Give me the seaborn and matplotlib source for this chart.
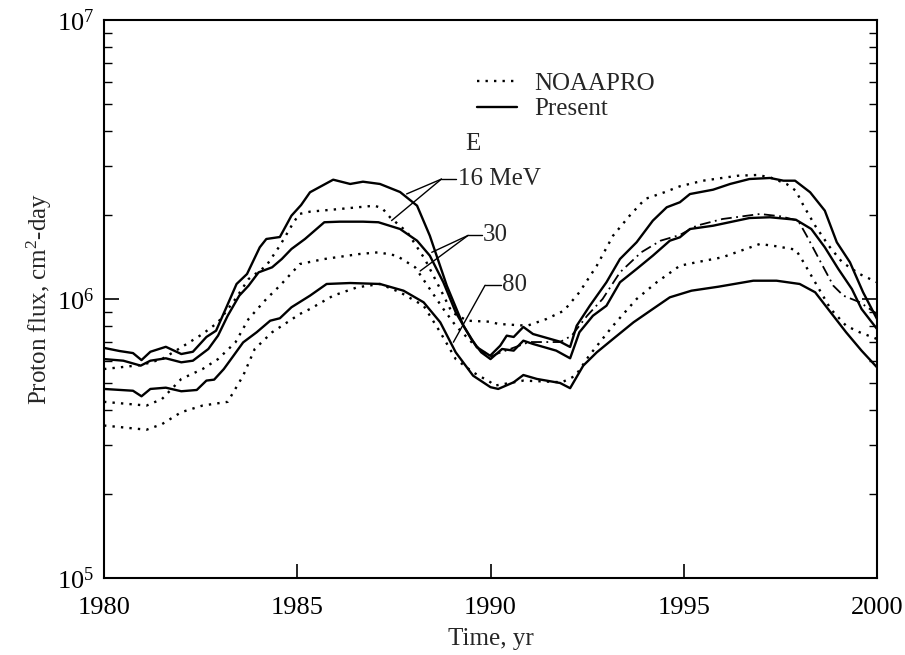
import numpy as np
import pandas as pd
import matplotlib
matplotlib.use("Agg")
import matplotlib.pyplot as plt
from matplotlib.ticker import LogLocator, NullFormatter, LogFormatterSciNotation
import seaborn as sns

# ---------------- data ----------------
present16_year = [1980.0, 1980.4, 1980.75, 1980.97, 1981.2, 1981.6, 1982.0, 1982.3, 1982.65, 1982.9,
                  1983.17, 1983.43, 1983.7, 1984.03, 1984.2, 1984.55, 1984.85, 1985.1, 1985.33, 1985.93,
                  1986.37, 1986.7, 1987.14, 1987.66, 1988.1, 1988.43, 1988.87, 1989.3, 1989.64, 1989.99,
                  1990.25, 1990.42, 1990.6, 1990.85, 1991.1, 1991.8, 1992.06, 1992.23, 1992.57, 1993.0,
                  1993.35, 1993.78, 1994.2, 1994.56, 1994.9, 1995.16, 1995.76, 1996.2, 1996.7, 1997.23,
                  1997.58, 1997.88, 1998.27, 1998.65, 1998.96, 1999.3, 1999.64, 2000.0]
present16_flux = [6.68e5, 6.51e5, 6.40e5, 6.04e5, 6.47e5, 6.74e5, 6.35e5, 6.47e5, 7.31e5, 7.70e5,
                  9.36e5, 1.132e6, 1.229e6, 1.532e6, 1.641e6, 1.668e6, 1.989e6, 2.172e6, 2.413e6, 2.677e6,
                  2.584e6, 2.633e6, 2.584e6, 2.418e6, 2.160e6, 1.686e6, 1.116e6, 8.02e5, 6.73e5, 6.26e5,
                  6.80e5, 7.39e5, 7.31e5, 7.94e5, 7.49e5, 7.03e5, 6.73e5, 8.02e5, 9.46e5, 1.148e6,
                  1.391e6, 1.597e6, 1.909e6, 2.132e6, 2.222e6, 2.378e6, 2.465e6, 2.584e6, 2.692e6, 2.715e6,
                  2.655e6, 2.655e6, 2.413e6, 2.073e6, 1.597e6, 1.354e6, 1.057e6, 8.48e5]

present30_year = [1980.0, 1980.5, 1980.95, 1981.2, 1981.6, 1982.0, 1982.3, 1982.7, 1982.95, 1983.2,
                  1983.5, 1983.74, 1984.0, 1984.35, 1984.6, 1984.85, 1985.2, 1985.7, 1986.1, 1986.7,
                  1987.1, 1987.66, 1988.1, 1988.43, 1988.78, 1989.1, 1989.5, 1989.76, 1990.0, 1990.3,
                  1990.6, 1990.85, 1991.1, 1991.7, 1992.06, 1992.3, 1992.65, 1993.0, 1993.35, 1993.78,
                  1994.2, 1994.64, 1994.9, 1995.16, 1995.76, 1996.7, 1997.23, 1997.9, 1998.3, 1998.65,
                  1999.0, 1999.35, 1999.6, 2000.0]
present30_flux = [6.09e5, 6.01e5, 5.77e5, 6.01e5, 6.13e5, 5.93e5, 6.01e5, 6.62e5, 7.39e5, 8.71e5,
                  1.028e6, 1.116e6, 1.246e6, 1.299e6, 1.391e6, 1.511e6, 1.641e6, 1.884e6, 1.893e6, 1.893e6,
                  1.884e6, 1.782e6, 1.618e6, 1.430e6, 1.148e6, 8.96e5, 7.19e5, 6.44e5, 6.09e5, 6.62e5,
                  6.53e5, 7.09e5, 6.90e5, 6.53e5, 6.13e5, 7.60e5, 8.71e5, 9.46e5, 1.148e6, 1.281e6,
                  1.430e6, 1.618e6, 1.664e6, 1.782e6, 1.831e6, 1.951e6, 1.963e6, 1.924e6, 1.782e6, 1.532e6,
                  1.281e6, 1.086e6, 9.21e5, 7.81e5]

present80_year = [1980.0, 1980.75, 1980.97, 1981.2, 1981.6, 1982.0, 1982.4, 1982.65, 1982.85, 1983.1,
                  1983.35, 1983.6, 1983.95, 1984.3, 1984.55, 1984.85, 1985.33, 1985.76, 1986.37, 1987.14,
                  1987.75, 1988.27, 1988.7, 1989.1, 1989.55, 1990.0, 1990.2, 1990.6, 1990.85, 1991.2,
                  1991.8, 1992.06, 1992.4, 1992.75, 1993.17, 1993.7, 1994.2, 1994.64, 1995.2, 1995.9,
                  1996.8, 1997.4, 1998.0, 1998.4, 1998.8, 1999.2, 1999.6, 2000.0]
present80_flux = [4.76e5, 4.69e5, 4.48e5, 4.76e5, 4.81e5, 4.67e5, 4.72e5, 5.10e5, 5.14e5, 5.61e5,
                  6.26e5, 6.99e5, 7.60e5, 8.36e5, 8.53e5, 9.34e5, 1.028e6, 1.132e6, 1.141e6, 1.132e6,
                  1.071e6, 9.73e5, 8.25e5, 6.44e5, 5.31e5, 4.83e5, 4.76e5, 5.03e5, 5.34e5, 5.17e5,
                  5.00e5, 4.79e5, 5.77e5, 6.44e5, 7.19e5, 8.25e5, 9.21e5, 1.014e6, 1.071e6, 1.107e6,
                  1.163e6, 1.163e6, 1.132e6, 1.057e6, 8.96e5, 7.60e5, 6.53e5, 5.69e5]

noaa16_year = [1980.0, 1980.97, 1981.5, 1982.0, 1982.55, 1982.95, 1983.4, 1983.74, 1984.2, 1984.55,
               1984.88, 1985.05, 1985.33, 1986.1, 1987.0, 1987.2, 1987.4, 1987.85, 1988.3, 1988.7,
               1989.0, 1989.4, 1989.99, 1990.2, 1990.95, 1991.45, 1991.9, 1992.3, 1992.75, 1993.17,
               1993.6, 1994.0, 1994.5, 1994.9, 1995.5, 1996.4, 1996.9, 1997.23, 1997.66, 1997.9,
               1998.1, 1998.4, 1998.75, 1999.1, 1999.55, 2000.0]
noaa16_flux = [5.61e5, 5.80e5, 6.09e5, 6.71e5, 7.49e5, 8.25e5, 1.000e6, 1.179e6, 1.316e6, 1.553e6,
               1.857e6, 2.017e6, 2.056e6, 2.102e6, 2.160e6, 2.114e6, 1.963e6, 1.734e6, 1.391e6, 1.086e6,
               8.96e5, 8.36e5, 8.29e5, 8.14e5, 8.02e5, 8.48e5, 9.08e5, 1.057e6, 1.316e6, 1.686e6,
               1.989e6, 2.283e6, 2.413e6, 2.535e6, 2.655e6, 2.766e6, 2.783e6, 2.731e6, 2.584e6, 2.444e6,
               2.160e6, 1.831e6, 1.553e6, 1.354e6, 1.229e6, 1.148e6]

noaa30_year = [1980.0, 1981.1, 1981.5, 1982.0, 1982.55, 1982.95, 1983.4, 1983.74, 1984.2, 1984.55,
               1985.07, 1985.7, 1986.6, 1987.1, 1987.57, 1988.05, 1988.43, 1988.78, 1989.1, 1989.6,
               1990.0]
noaa30_flux = [4.28e5, 4.15e5, 4.38e5, 5.17e5, 5.61e5, 6.09e5, 6.99e5, 8.48e5, 1.000e6, 1.116e6,
               1.335e6, 1.391e6, 1.449e6, 1.470e6, 1.430e6, 1.299e6, 1.086e6, 9.21e5, 8.02e5, 6.80e5,
               6.20e5]

noaa30b_year = [1990.0, 1990.15, 1991.0, 1991.8, 1992.1, 1992.5, 1992.9, 1993.35, 1993.9, 1994.4,
                1994.9, 1995.33, 1996.0, 1996.97, 1997.5, 1997.96, 1998.18, 1998.5, 1998.87, 1999.13,
                1999.56, 2000.0]
noaa30b_flux = [6.20e5, 6.35e5, 7.01e5, 7.01e5, 7.39e5, 8.71e5, 1.000e6, 1.246e6, 1.470e6, 1.618e6,
                1.696e6, 1.831e6, 1.935e6, 2.017e6, 1.979e6, 1.909e6, 1.686e6, 1.391e6, 1.116e6, 1.028e6,
                9.73e5, 8.84e5]

noaa80_year = [1980.0, 1981.1, 1981.5, 1982.0, 1982.55, 1983.2, 1983.6, 1983.9, 1984.35, 1985.07,
               1985.33, 1985.93, 1986.55, 1987.14, 1987.66, 1988.27, 1988.7, 1989.1, 1989.55, 1990.0,
               1990.1, 1990.85, 1991.85, 1992.2, 1992.55, 1993.17, 1993.78, 1994.3, 1994.9, 1995.33,
               1996.0, 1996.97, 1997.4, 1997.9, 1998.1, 1998.45, 1998.8, 1999.2, 1999.55, 2000.0]
noaa80_flux = [3.52e5, 3.40e5, 3.56e5, 3.93e5, 4.15e5, 4.28e5, 5.31e5, 6.62e5, 7.60e5, 8.84e5,
               9.21e5, 1.028e6, 1.101e6, 1.132e6, 1.057e6, 9.46e5, 7.60e5, 6.09e5, 5.46e5, 5.03e5,
               4.89e5, 5.10e5, 5.03e5, 5.31e5, 6.26e5, 8.02e5, 1.000e6, 1.148e6, 1.316e6, 1.354e6,
               1.411e6, 1.575e6, 1.545e6, 1.502e6, 1.354e6, 1.116e6, 9.21e5, 8.02e5, 7.60e5, 7.19e5]

x_ticks = [1980, 1985, 1990, 1995, 2000]
legend_labels = ["NOAAPRO", "Present"]
energy_labels = ["16 MeV", "30", "80"]

# ---------------- build long table ----------------
series = {
    "Present 16": (present16_year, present16_flux),
    "Present 30": (present30_year, present30_flux),
    "Present 80": (present80_year, present80_flux),
    "NOAAPRO 16": (noaa16_year, noaa16_flux),
    "NOAAPRO 30": (noaa30_year, noaa30_flux),
    "NOAAPRO 30b": (noaa30b_year, noaa30b_flux),
    "NOAAPRO 80": (noaa80_year, noaa80_flux),
}
frames = []
for name, (yr, fl) in series.items():
    frames.append(pd.DataFrame({"year": yr, "flux": fl, "series": name}))
df = pd.concat(frames, ignore_index=True)

dot = (0, (1, 2.6))
styles = {
    "Present 16": dict(linestyle="-", lw=1.7),
    "Present 30": dict(linestyle="-", lw=1.7),
    "Present 80": dict(linestyle="-", lw=1.7),
    "NOAAPRO 16": dict(linestyle=dot, lw=1.7),
    "NOAAPRO 30": dict(linestyle=dot, lw=1.7),
    "NOAAPRO 30b": dict(linestyle=(0, (6, 2.5, 1, 2.5)), lw=1.3),
    "NOAAPRO 80": dict(linestyle=dot, lw=1.7),
}

# ---------------- style ----------------
sns.set_style("white")
plt.rcParams["font.family"] = ["Liberation Serif", "DejaVu Serif"]
plt.rcParams["mathtext.fontset"] = "custom"
plt.rcParams["mathtext.rm"] = "Liberation Serif"
plt.rcParams["mathtext.it"] = "Liberation Serif:italic"
plt.rcParams["axes.unicode_minus"] = False
plt.rcParams["lines.solid_joinstyle"] = "round"
plt.rcParams["lines.dash_joinstyle"] = "round"

fig = plt.figure(figsize=(9.05, 6.55), dpi=100)
ax = fig.add_axes([104 / 905, 77 / 655, 773 / 905, 558 / 655])
ax.set_yscale("log")

handles = {}
for name in series:
    sub = df[df["series"] == name]
    sns.lineplot(data=sub, x="year", y="flux", color="black", sort=False,
                 estimator=None, ax=ax, legend=False, **styles[name])
    handles[name] = ax.lines[-1]

ax.set_xlim(1980, 2000)
ax.set_ylim(1e5, 1e7)
ax.set_xticks(x_ticks)
ax.set_xticklabels([str(t) for t in x_ticks])
ax.yaxis.set_major_locator(LogLocator(base=10))
ax.yaxis.set_major_formatter(LogFormatterSciNotation(base=10))
ax.yaxis.set_minor_locator(LogLocator(base=10, subs=np.arange(2, 10)))
ax.yaxis.set_minor_formatter(NullFormatter())

for s in ax.spines.values():
    s.set_linewidth(1.5)
    s.set_color("black")

ax.tick_params(axis="both", which="both", direction="in", colors="black", labelsize=19)
ax.tick_params(axis="y", which="major", length=11, width=1.2, left=True, right=True, pad=7)
ax.tick_params(axis="y", which="minor", length=6, width=1.0, left=True, right=True)
ax.tick_params(axis="x", which="major", length=10, width=1.2, bottom=True, top=False, pad=14)

ax.set_xlabel("Time, yr", fontsize=18, labelpad=6)
ax.set_ylabel("Proton flux, cm$^{2}$-day", fontsize=18, labelpad=2)

# legend
leg = ax.legend([handles["NOAAPRO 16"], handles["Present 16"]], legend_labels,
                loc="upper left", bbox_to_anchor=(0.4825, 0.906), frameon=False,
                fontsize=18, handlelength=1.6, handletextpad=0.7, labelspacing=0.12,
                borderpad=0, borderaxespad=0)

# energy labels with leader lines (data coords)
ax.text(1989.55, 3.6e6, "E", fontsize=18, ha="center", va="center")

lab16 = (1989.12, 2.69e6)
j16 = (1988.73, 2.69e6)
t16 = [(1987.83, 2.38e6), (1987.44, 1.91e6)]
lab30 = (1989.78, 1.69e6)
j30 = (1989.42, 1.69e6)
t30 = [(1988.48, 1.47e6), (1988.18, 1.26e6)]
lab80 = (1990.28, 1.12e6)
j80 = (1989.86, 1.12e6)
t80 = [(1989.04, 7.0e5)]

for lab, j, targets, txt in [(lab16, j16, t16, energy_labels[0]),
                             (lab30, j30, t30, energy_labels[1]),
                             (lab80, j80, t80, energy_labels[2])]:
    ax.plot([j[0], lab[0]], [j[1], lab[1]], color="black", lw=1.0)
    for t in targets:
        ax.plot([j[0], t[0]], [j[1], t[1]], color="black", lw=1.0)
    ax.text(lab[0] + 0.03, lab[1], txt, fontsize=18, ha="left", va="center")

fig.savefig("out.png", dpi=100)
